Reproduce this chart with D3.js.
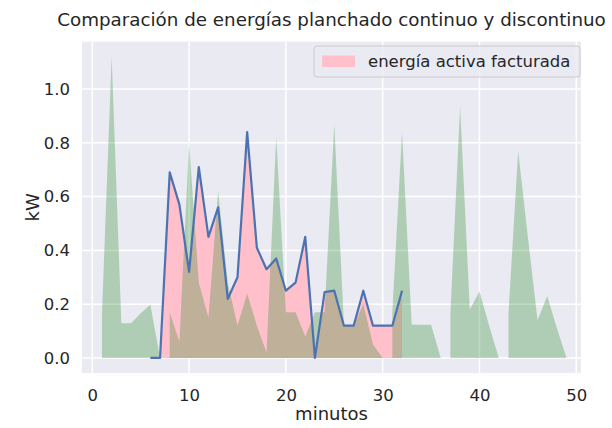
<!DOCTYPE html>
<html>
<head>
<meta charset="utf-8">
<script src="https://cdn.jsdelivr.net/npm/d3@7"></script>
<style>
  html, body { margin: 0; padding: 0; background: #ffffff; }
  svg { display: block; font-family: "DejaVu Sans", sans-serif; }
</style>
</head>
<body>
<svg id="chart" width="612" height="428"></svg>
<script>
// ---- data ----
const titleText = "Comparación de energías planchado continuo y discontinuo";
const xLabel = "minutos";
const yLabel = "kW";
const legendLabel = "energía activa facturada";

const xTicks = [0, 10, 20, 30, 40, 50];
const yTicks = [0.0, 0.2, 0.4, 0.6, 0.8, 1.0];

// continuous ironing (blue line, pink fill)
const blueMinutes = [6, 7, 8, 9, 10, 11, 12, 13, 14, 15, 16, 17, 18, 19, 20, 21, 22, 23, 24, 25, 26, 27, 28, 29, 30, 31, 32];
const blueKW = [0, 0, 0.69, 0.57, 0.32, 0.71, 0.45, 0.56, 0.22, 0.30, 0.84, 0.41, 0.33, 0.37, 0.25, 0.28, 0.45, 0.0, 0.245, 0.25, 0.12, 0.12, 0.25, 0.12, 0.12, 0.12, 0.25];

// discontinuous ironing (green fill), one array per cycle
const greenMinutesA = [1, 2, 3, 4, 5, 6, 7];
const greenKWA = [0.167, 1.12, 0.129, 0.129, 0.166, 0.198, 0];
const greenMinutesB = [8, 9, 10, 11, 12, 13, 14, 15, 16, 17, 18, 19, 20, 21, 22, 23, 24, 25, 26, 27, 28, 29, 30];
const greenKWB = [0.17, 0.06, 0.80, 0.28, 0.15, 0.62, 0.28, 0.12, 0.24, 0.12, 0.02, 0.82, 0.17, 0.17, 0.08, 0.17, 0.17, 0.87, 0.12, 0.12, 0.20, 0.05, 0];
const greenMinutesC = [31, 32, 33, 34, 35, 36];
const greenKWC = [0.17, 0.84, 0.123, 0.123, 0.123, 0];
const greenMinutesD = [37, 38, 39, 40, 41, 42];
const greenKWD = [0.167, 0.935, 0.18, 0.247, 0.12, 0];
const greenMinutesE = [43, 44, 45, 46, 47, 48, 49];
const greenKWE = [0.167, 0.77, 0.45, 0.14, 0.23, 0.11, 0];

// ---- layout ----
const plot = { left: 82, right: 581, top: 41.7, bottom: 373 };
const textColor = "#262626";

const svg = d3.select("#chart");
svg.append("rect").attr("width", 612).attr("height", 428).attr("fill", "#ffffff");

const x = d3.scaleLinear().domain([-1.064, 50.49]).range([plot.left, plot.right]);
const y = d3.scaleLinear().domain([-0.056, 1.176]).range([plot.bottom, plot.top]);

svg.append("rect")
  .attr("x", plot.left).attr("y", plot.top)
  .attr("width", plot.right - plot.left).attr("height", plot.bottom - plot.top)
  .attr("fill", "#EAEAF2");

// grid
const grid = svg.append("g");
grid.selectAll(".gx").data(xTicks).join("line")
  .attr("x1", d => x(d)).attr("x2", d => x(d))
  .attr("y1", plot.top).attr("y2", plot.bottom)
  .attr("stroke", "#ffffff").attr("stroke-width", 1.5);
grid.selectAll(".gy").data(yTicks).join("line")
  .attr("x1", plot.left).attr("x2", plot.right)
  .attr("y1", d => y(d)).attr("y2", d => y(d))
  .attr("stroke", "#ffffff").attr("stroke-width", 1.5);

svg.append("clipPath").attr("id", "clip")
  .append("rect").attr("x", plot.left).attr("y", plot.top)
  .attr("width", plot.right - plot.left).attr("height", plot.bottom - plot.top);

const g = svg.append("g").attr("clip-path", "url(#clip)");

const zip = (ms, vs) => ms.map((m, i) => ({ m, v: vs[i] }));
const area = d3.area().x(d => x(d.m)).y0(y(0)).y1(d => y(d.v));
const line = d3.line().x(d => x(d.m)).y(d => y(d.v));

const blueData = zip(blueMinutes, blueKW);

// pink fill under continuous series
g.append("path").datum(blueData).attr("d", area).attr("fill", "#FFC0CB");

// green fills (discontinuous)
const greenSegments = [
  zip(greenMinutesA, greenKWA),
  zip(greenMinutesB, greenKWB),
  zip(greenMinutesC, greenKWC),
  zip(greenMinutesD, greenKWD),
  zip(greenMinutesE, greenKWE)
];
greenSegments.forEach(seg => {
  g.append("path").datum(seg).attr("d", area)
    .attr("fill", "#288c28").attr("fill-opacity", 0.3);
});

// blue line
g.append("path").datum(blueData).attr("d", line)
  .attr("fill", "none").attr("stroke", "#4C72B0").attr("stroke-width", 2.2)
  .attr("stroke-linejoin", "round");

// axes
const xAxis = svg.append("g").attr("transform", `translate(0,${plot.bottom})`)
  .call(d3.axisBottom(x).tickValues(xTicks).tickSize(0).tickPadding(16).tickFormat(d3.format("d")));
const yAxis = svg.append("g").attr("transform", `translate(${plot.left},0)`)
  .call(d3.axisLeft(y).tickValues(yTicks).tickSize(0).tickPadding(12).tickFormat(d3.format(".1f")));
[xAxis, yAxis].forEach(a => {
  a.select(".domain").remove();
  a.selectAll("text").attr("fill", textColor).attr("font-size", "16.5px")
    .attr("font-family", "DejaVu Sans");
});

// title & labels
svg.append("text").attr("x", (plot.left + plot.right) / 2).attr("y", 26)
  .attr("text-anchor", "middle").attr("font-size", "18.3px").attr("fill", textColor)
  .text(titleText);
svg.append("text").attr("x", (plot.left + plot.right) / 2).attr("y", 420)
  .attr("text-anchor", "middle").attr("font-size", "18px").attr("fill", textColor)
  .text(xLabel);
svg.append("text")
  .attr("transform", `translate(39,${(plot.top + plot.bottom) / 2}) rotate(-90)`)
  .attr("text-anchor", "middle").attr("font-size", "18px").attr("fill", textColor)
  .text(yLabel);

// legend
const lg = svg.append("g");
lg.append("rect").attr("x", 314).attr("y", 46).attr("width", 266).attr("height", 31)
  .attr("rx", 3).attr("fill", "#EAEAF2").attr("fill-opacity", 0.8)
  .attr("stroke", "#cccccc").attr("stroke-width", 1);
lg.append("rect").attr("x", 322).attr("y", 55.5).attr("width", 33).attr("height", 11.5)
  .attr("fill", "#FFC0CB");
lg.append("text").attr("x", 368).attr("y", 67).attr("font-size", "16.5px")
  .attr("fill", textColor).text(legendLabel);
</script>
</body>
</html>
